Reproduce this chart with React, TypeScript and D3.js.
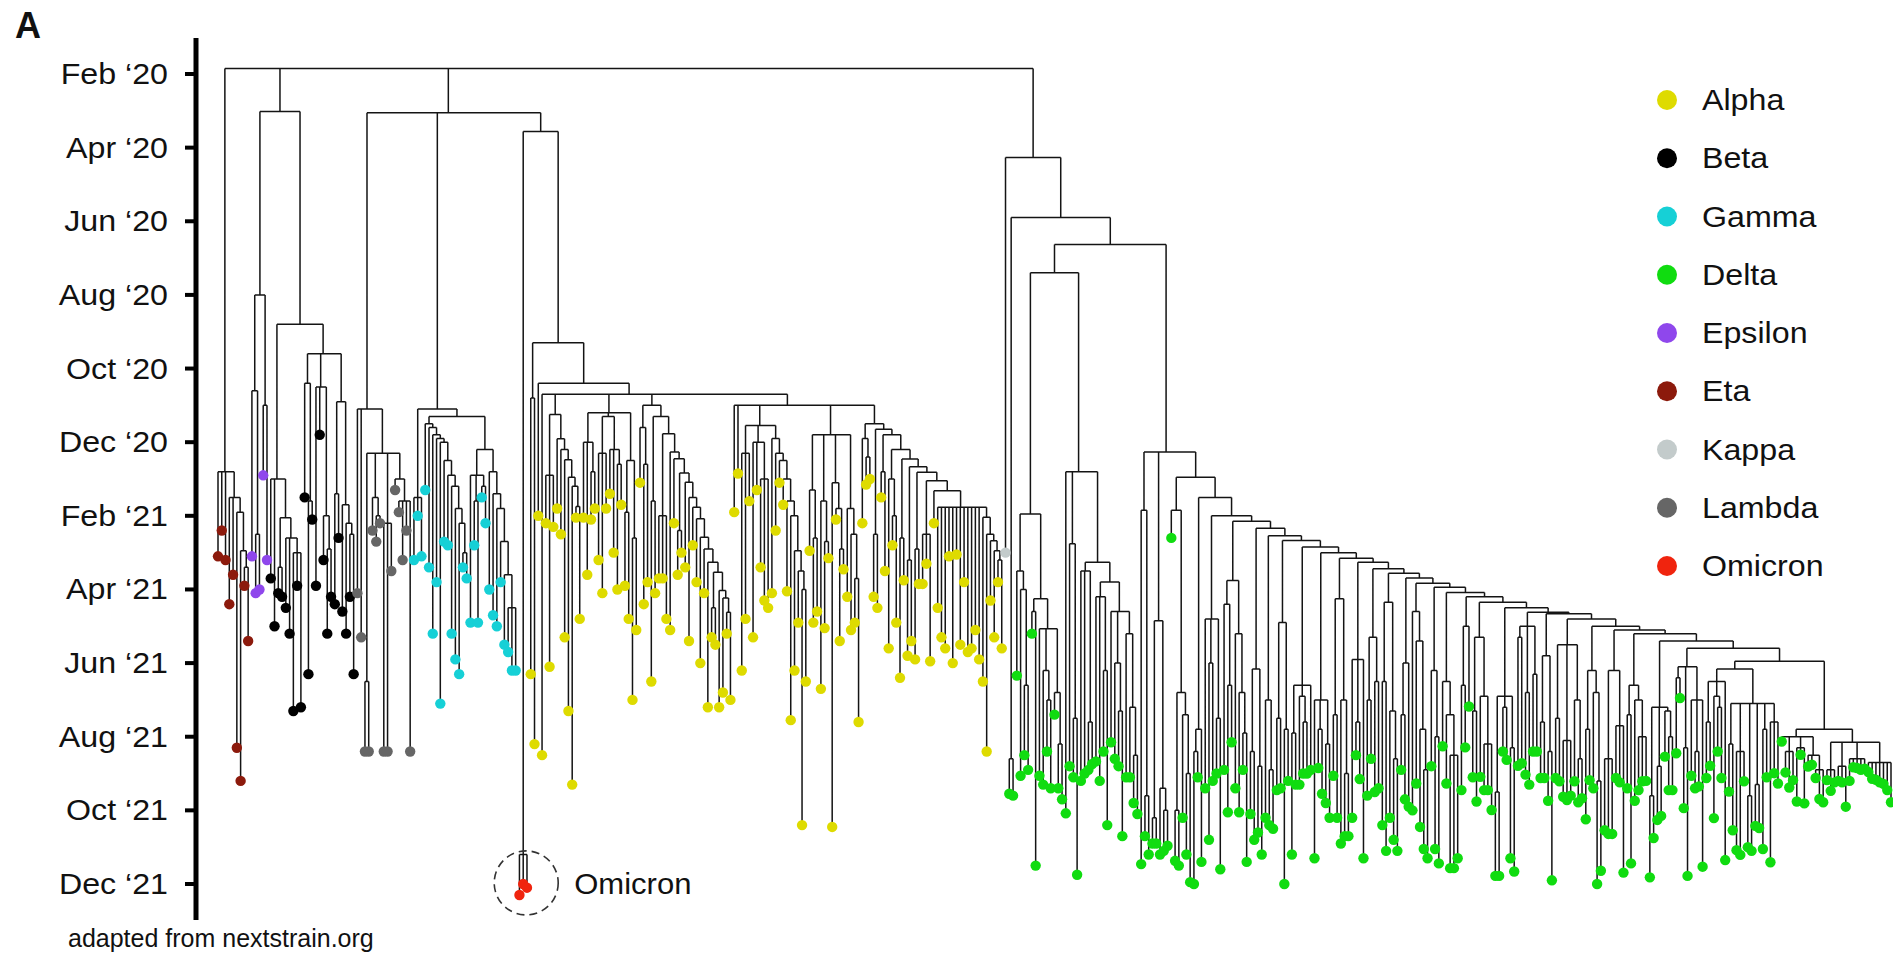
import { useMemo } from 'react';
import { hierarchy, HierarchyNode, max, mean, min, scaleLinear, scaleOrdinal } from 'd3';

// dates are months after Feb 2020 (Feb '20 = 0, Dec '21 = 22)
const tickMonths = [0, 2, 4, 6, 8, 10, 12, 14, 16, 18, 20, 22];
const tickLabels = [
  'Feb ‘20', 'Apr ‘20', 'Jun ‘20', 'Aug ‘20', 'Oct ‘20', 'Dec ‘20',
  'Feb ‘21', 'Apr ‘21', 'Jun ‘21', 'Aug ‘21', 'Oct ‘21', 'Dec ‘21',
];

const variants = ['Alpha', 'Beta', 'Gamma', 'Delta', 'Epsilon', 'Eta', 'Kappa', 'Lambda', 'Omicron'];
const variantColors = ['#dedb00', '#000000', '#16d0d6', '#10dc10', '#8f47ec', '#8c1a0c', '#c3cbcb', '#666666', '#f0240e'];
const leafCodes: Record<string, string> = { k: 'Kappa' };

// tree strings: (children)nodeDate, leaves are dates; CAPS names are other subtrees
const backbone = '(ETA,(EPSILON,BETA)1.02,(LAMBDA,GAMMA,(OMICRON,ALPHA)1.56)1.05,DELTA)-0.15';

const etaTree = '(13.1,12.4,13.2,(14.4,13.6,(18.3,(19.2,(13.9,15.4)13.4)12.95)11.9)11.5)10.8';
const epsilonTree = '((13.1,(14.1,14.0)12.5)8.6,(10.9,13.2)9.0)6.0';
const betaTree =
  '((13.7,15.0,((14.1,14.2)13.4,(14.5,15.2,(17.3,13.9,17.2)13.0)12.6)12.05)11.0,((11.5,(16.3,12.1)11.6)8.4,(13.9,9.8,(13.2,(15.2,14.2)12.9)12.0)8.5,((14.4,12.6)11.4,(14.6,(15.2,(14.2,16.3)12.5)12.2)11.7)8.9)7.6)6.8';
const lambdaTree =
  '(14.1,15.3,((18.4,18.4)16.5,(12.4,(12.7,12.2)12.0)11.5,(18.4,18.4,13.5)12.2,(11.3,(11.9,13.2,12.4,18.4)11.6)11.0)10.3)9.1';
const gammaTree =
  '((13.2,12.0,13.1)11.5,((11.3,(13.4,(15.2,(13.8,(17.1,(12.7,(12.8,(15.2,(15.9,(16.3,(13.4,13.7)13.0)12.2)11.8)11.2)10.9)10.5)10.0)9.9)9.8)9.6)9.5,((14.9,(12.8,14.9)11.6,(11.5,12.2)11.2)10.9,(14.0,(14.7,(15.0,(13.8,(15.5,(15.7,16.2,16.2)14.5)13.6)12.7)11.8)11.4)10.8)10.2)9.3)9.1';
const omicronTree = '(22.3,22.0,22.1)21.2';

const alphaTree = '((16.3,18.2)8.8,(12.0,(18.5,ALPHA_1,ALPHA_2,ALPHA_3,ALPHA_4)8.7)8.4)7.3';
const alpha1 = '((12.2,16.1,12.3)10.9,(11.8,(12.5,(15.3,(17.3,(19.3,(12.05,14.8)11.75)11.2)10.95)10.48)10.2)9.91)9.25';
const alpha2 =
  '((12.05,13.6,(12.1,11.8)10.8)10.0,((13.2,14.1,11.8)10.3,(11.4,13.0,(14.0,11.7)10.6)10.2)9.3,((13.9,14.8)11.9,(17.0,15.1)12.6)10.5)9.2';
const alpha3 =
  '((11.1,(14.4,13.8)10.6)9.6,((16.5,14.1)11.6,((13.7,13.7,14.8)12.0,(15.1,(12.2,((13.6,13.0)12.4,(13.4,(15.4,(12.8,(13.8,(16.0,(14.1,(17.2,((15.3,15.5)14.5,(17.2,(16.8,(15.2,17.0)14.62)14.23)14.03)13.53)13.26)12.9)12.58)12.08)11.77)11.5)11.09)10.84)10.45)10.27)9.77)9.3)9.0';
const alpha4 =
  '(11.9,10.85,((16.2,14.8,11.6)10.3,(15.3,11.3,(13.4,14.3,14.5)11.0)10.0,(14.1,(12.4,(11.1,(11.7,(14.05,(17.55,(16.2,(14.9,(20.4,16.5)14.0)13.5)12.95)12.0)11.6)11.0)10.5)10.3)9.9)9.55,((12.95,(14.9,14.6)12.6)11.3,(16.7,(15.05,13.15)12.7)11.6,(20.45,(12.1,(15.4,13.45)12.9)11.8)11.1,(14.2,(15.1,(14.9,17.6)13.7)12.5)11.8)9.8,ALPHA_5)9.0';
const alpha5 =
  '((12.2,(11.15,11.0)10.4)9.9,((14.2,14.5)12.5,((11.5,13.5)10.8,((15.6,(12.8,14.9)12.0)11.0,((16.4,13.75)12.6,((15.8,15.4)13.2,((15.9,13.85)12.9,((13.85,13.3,15.95)12.5,(12.2,(14.5,15.3,15.6,13.1,16.0,13.05,15.5,13.8,15.7,15.6,15.1,15.9,(16.5,(18.4,(14.3,(15.3,(13.8,15.6)13.2)12.95)12.68)12.5)12.04)11.77)11.32)11.05)10.82)10.67)10.46)10.2)9.8)9.65)9.5';

const deltaTree =
  '(k13.0,((19.55,19.6)18.6,((DELTA_A,DELTA_B)5.4,((21.46,(20.7,21.2)19.6)11.85,((20.9,20.9)20.2,(21.2,(21.1,20.96)20.0)19.4)14.85,(DELTA_C,(DELTA_D,LADDER)11.5)10.95)10.27)4.63)3.9)2.27';
const deltaA =
  '((16.34,(19.06,(18.5,18.9)16.6)14.0)13.5,((15.2,21.5)14.6,(19.06,(19.3,(18.4,19.4)17.0)16.2,(17.4,(19.4,19.7)18.2)16.8)15.07)14.25)11.95';
const deltaB =
  '(20.08,(18.8,(19.1,21.75)17.5)12.76,((19.2,19.0,(18.9,18.74)17.6)13.5,((18.67,19.2,(18.4,20.4)16.2)14.2,(18.15,(18.6,(18.8,20.7)17.3)16.0,(19.1,(19.1,(19.8,20.1)18.5)17.2)15.2)14.6)13.8)13.26)10.8';
const deltaC = '(12.6,((21.37,21.5)20.0,(20.2,(21.2,21.95)19.0)17.4)16.8)11.85';
const deltaD = '((22.0,19.1)18.4,21.4)17.8';

// staircase of the Delta crown: [node date, side clade]
const deltaSpine: [number, string][] = [
  [12.0, '(19.4,(20.8,19.2)16.0,(19.0,21.6)17.5)14.8'],
  [12.15, '((18.9,(20.05,18.15)16.6)14.4,(19.4,(20.05,(18.9,21.4)17.9)16.8)15.2)13.76'],
  [12.34, '((20.1,20.8)18.4,(20.6,21.2)18.8)16.16'],
  [12.54, '(20.2,(20.4,20.5)18.9)17.0'],
  [12.67, '((19.45,19.4)17.5,(22.0,19.2)17.8)14.9'],
  [12.85, '((21.2,19.3)17.9,(19.3,(19.0,19.0)17.6)16.9,18.9)16.6'],
  [13.0, '(21.3,(18.85,19.55)17.8,(19.8,20.2)18.2)17.0'],
  [13.15, '((19.06,20.2)17.4,(20.9,(20.7,20.7)19.0)17.0)14.25'],
  [13.26, '(20.2,(18.5,19.15)17.6,21.3)15.9'],
  [13.44, '((19.6,18.6)17.0,(19.5,19.4)16.5)15.3'],
  [13.56, '((20.4,21.1)16.5,(20.2,(20.8,21.1)18.6)17.3)14.35'],
  [13.69, '((18.9,19.7)17.4,19.9)16.0'],
  [13.83, '(20.0,(19.27,(20.45,(21.05,21.3)18.9)17.8)15.4)14.6'],
  [13.94, '(18.8,(21.05,21.44)18.0)16.2'],
  [14.08, '(18.26,(19.27,(21.57,21.57,21.3)18.5)17.4)16.5'],
  [14.2, '((19.45,18.29)16.6,17.18)15.0'],
  [14.35, '((19.1,19.76)17.3,(19.09,(19.45,19.45,19.99)18.2)16.9)15.3'],
  [14.5, '((21.78,21.78)19.5,(18.4,18.63)17.2,(21.3,21.66)18.3)16.9'],
  [14.62, '((18.79,18.72)15.3,(19.03,19.3)16.8,(18.4,18.4)16.3)15.0'],
  [14.66, '((19.12,19.12)17.6,(19.74,21.9)18.4)15.8'],
  [14.8, '((19.12,19.21)17.5,(19.63,19.72,19.6)18.1,(19.21,(19.78,19.67)18.6)17.0)15.5'],
  [15.0, '((20.24,19.18)17.8,(19.4,(22.0,21.64)19.2)16.8)16.2'],
  [15.1, '((20.54,20.64,20.64)18.6,(19.12,19.24,21.69)17.7)16.2'],
  [15.2, '((19.4,21.44)17.4,(19.74,(19.45,19.21,19.2)18.0)17.0)16.6'],
  [15.4, '((21.82,20.75)19.6,(20.26,20.15)18.8,(18.54,(19.45,19.45)18.0)17.3)17.2'],
  [15.6, '((18.45,16.95)16.4,(19.94,21.78)18.3,(19.06,(19.4,19.35)18.4,21.53)17.0)16.1'],
];
const deltaCrown =
  '((((19.12,18.79)17.6,(20.21,(18.4,19.12)17.2)16.9,21.35)16.5,((19.49,20.54)18.2,(21.08,21.21,19.21)18.4,(21.0,21.1)19.6,(20.42,20.48)19.3,(21.05,19.1)17.8,(21.41,18.99,19.27)17.6)17.1)16.16,((18.13,(18.97,19.38,19.18)18.4,(19.76,18.49,19.81)18.3,(18.81,18.76,(19.12,19.69,19.78)18.9)18.5)18.0,((19.18,19.47,19.24)18.9,(19.2,19.24,19.9)18.8,(19.2,18.83,18.85,18.9,18.87)18.6,(18.96,19.14,19.17,19.24,19.28,19.45,19.78)18.7)18.15)17.8)15.95';

const cladeVariants: Record<string, string> = {
  ETA: 'Eta', EPSILON: 'Epsilon', BETA: 'Beta', LAMBDA: 'Lambda', GAMMA: 'Gamma',
  OMICRON: 'Omicron', ALPHA: 'Alpha', DELTA: 'Delta',
};

const subtrees: Record<string, string> = {
  ROOT: backbone,
  ETA: etaTree,
  EPSILON: epsilonTree,
  BETA: betaTree,
  LAMBDA: lambdaTree,
  GAMMA: gammaTree,
  OMICRON: omicronTree,
  ALPHA: alphaTree,
  ALPHA_1: alpha1,
  ALPHA_2: alpha2,
  ALPHA_3: alpha3,
  ALPHA_4: alpha4,
  ALPHA_5: alpha5,
  DELTA: deltaTree,
  DELTA_A: deltaA,
  DELTA_B: deltaB,
  DELTA_C: deltaC,
  DELTA_D: deltaD,
  LADDER: deltaSpine.reduceRight((acc, [d, side]) => `(${side},${acc})${d}`, deltaCrown),
};

type TreeNode = { date: number; variant?: string; children?: TreeNode[] };

function parseTree(name: string, inherited: string): TreeNode {
  const src = subtrees[name];
  const variant = cladeVariants[name] ?? inherited;
  let i = 0;
  const readWhile = (re: RegExp) => {
    const start = i;
    while (i < src.length && re.test(src[i])) i++;
    return src.slice(start, i);
  };
  const readNode = (): TreeNode => {
    if (src[i] === '(') {
      i++;
      const children: TreeNode[] = [];
      for (;;) {
        children.push(readNode());
        const c = src[i++];
        if (c === ')') break;
        if (c !== ',') throw new Error(`bad tree ${name} at ${i}`);
      }
      return { date: parseFloat(readWhile(/[-0-9.]/)), children };
    }
    if (/[A-Z]/.test(src[i])) return parseTree(readWhile(/[A-Z0-9_]/), variant);
    let v = variant;
    if (/[a-z]/.test(src[i])) v = leafCodes[src[i++]];
    return { date: parseFloat(readWhile(/[-0-9.]/)), variant: v };
  };
  return readNode();
}

const W = 1893;
const H = 955;
const font = '"Liberation Sans", Arial, sans-serif';
const stretch = 'scale(1.11,1)'; // the figure's labels are a little wider than plain Arial

type Node = HierarchyNode<TreeNode> & { x?: number };

export default function App() {
  const y = useMemo(() => scaleLinear().domain([0, 22]).range([74, 884]), []);
  const color = useMemo(() => scaleOrdinal<string, string>().domain(variants).range(variantColors), []);
  const legendY = useMemo(() => scaleLinear().domain([0, variants.length - 1]).range([100, 566]), []);

  const { root, leaves } = useMemo(() => {
    const root = hierarchy(parseTree('ROOT', 'Delta')) as Node;
    const leaves = root.leaves() as Node[];
    const x = scaleLinear().domain([0, leaves.length - 1]).range([218, 1891]);
    leaves.forEach((l, i) => (l.x = x(i)));
    root.eachAfter((n: Node) => {
      if (n.children) n.x = mean(n.children as Node[], (c) => c.x!)!;
    });
    return { root, leaves };
  }, []);

  const branches = useMemo(() => {
    let d = '';
    root.each((n: Node) => {
      if (n.parent) d += `M${n.x},${y(n.parent.data.date)}V${y(n.data.date)}`;
      if (n.children) {
        const kids = n.children as Node[];
        d += `M${min(kids, (c) => c.x!)},${y(n.data.date)}H${max(kids, (c) => c.x!)}`;
      }
    });
    return d;
  }, [root, y]);

  const omicron = useMemo(() => {
    let found: Node | null = null;
    root.each((n: Node) => {
      if (!found && n.children && n.leaves().every((l) => l.data.variant === 'Omicron')) found = n;
    });
    const node = found as unknown as Node;
    return { cx: node.x! + 3, cy: y(mean(node.leaves(), (l) => l.data.date)!) - 6 };
  }, [root, y]);

  return (
    <svg width={W} height={H} style={{ position: 'absolute', left: 0, top: 0, background: '#fff' }}>
      <text x={15} y={38} fontFamily={font} fontWeight="bold" fontSize={36} fill="#111">
        A
      </text>

      <line x1={196} x2={196} y1={38} y2={920} stroke="#000" strokeWidth={5} />
      {tickMonths.map((m, i) => (
        <g key={m}>
          <line x1={185} x2={196} y1={y(m)} y2={y(m)} stroke="#000" strokeWidth={4} />
          <text
            transform={`translate(168,${y(m) + 10}) ${stretch}`}
            textAnchor="end"
            fontFamily={font}
            fontSize={29}
            fill="#111"
          >
            {tickLabels[i]}
          </text>
        </g>
      ))}
      <text x={68} y={947} fontFamily={font} fontSize={25} fill="#111">
        adapted from nextstrain.org
      </text>

      <path d={branches} fill="none" stroke="#141414" strokeWidth={1.5} />
      {leaves.map((l, i) => (
        <circle key={i} cx={l.x} cy={y(l.data.date)} r={5.2} fill={color(l.data.variant!)} />
      ))}

      <circle cx={omicron.cx} cy={omicron.cy} r={32} fill="none" stroke="#333" strokeWidth={1.6} strokeDasharray="8 5" />
      <text
        transform={`translate(${omicron.cx + 48},${omicron.cy + 11}) scale(1.07,1)`}
        fontFamily={font}
        fontSize={29}
        fill="#111"
      >
        Omicron
      </text>

      {variants.map((v, i) => (
        <g key={v}>
          <circle cx={1667} cy={legendY(i)} r={10} fill={color(v)} />
          <text transform={`translate(1702,${legendY(i) + 10}) ${stretch}`} fontFamily={font} fontSize={29} fill="#111">
            {v}
          </text>
        </g>
      ))}
    </svg>
  );
}
